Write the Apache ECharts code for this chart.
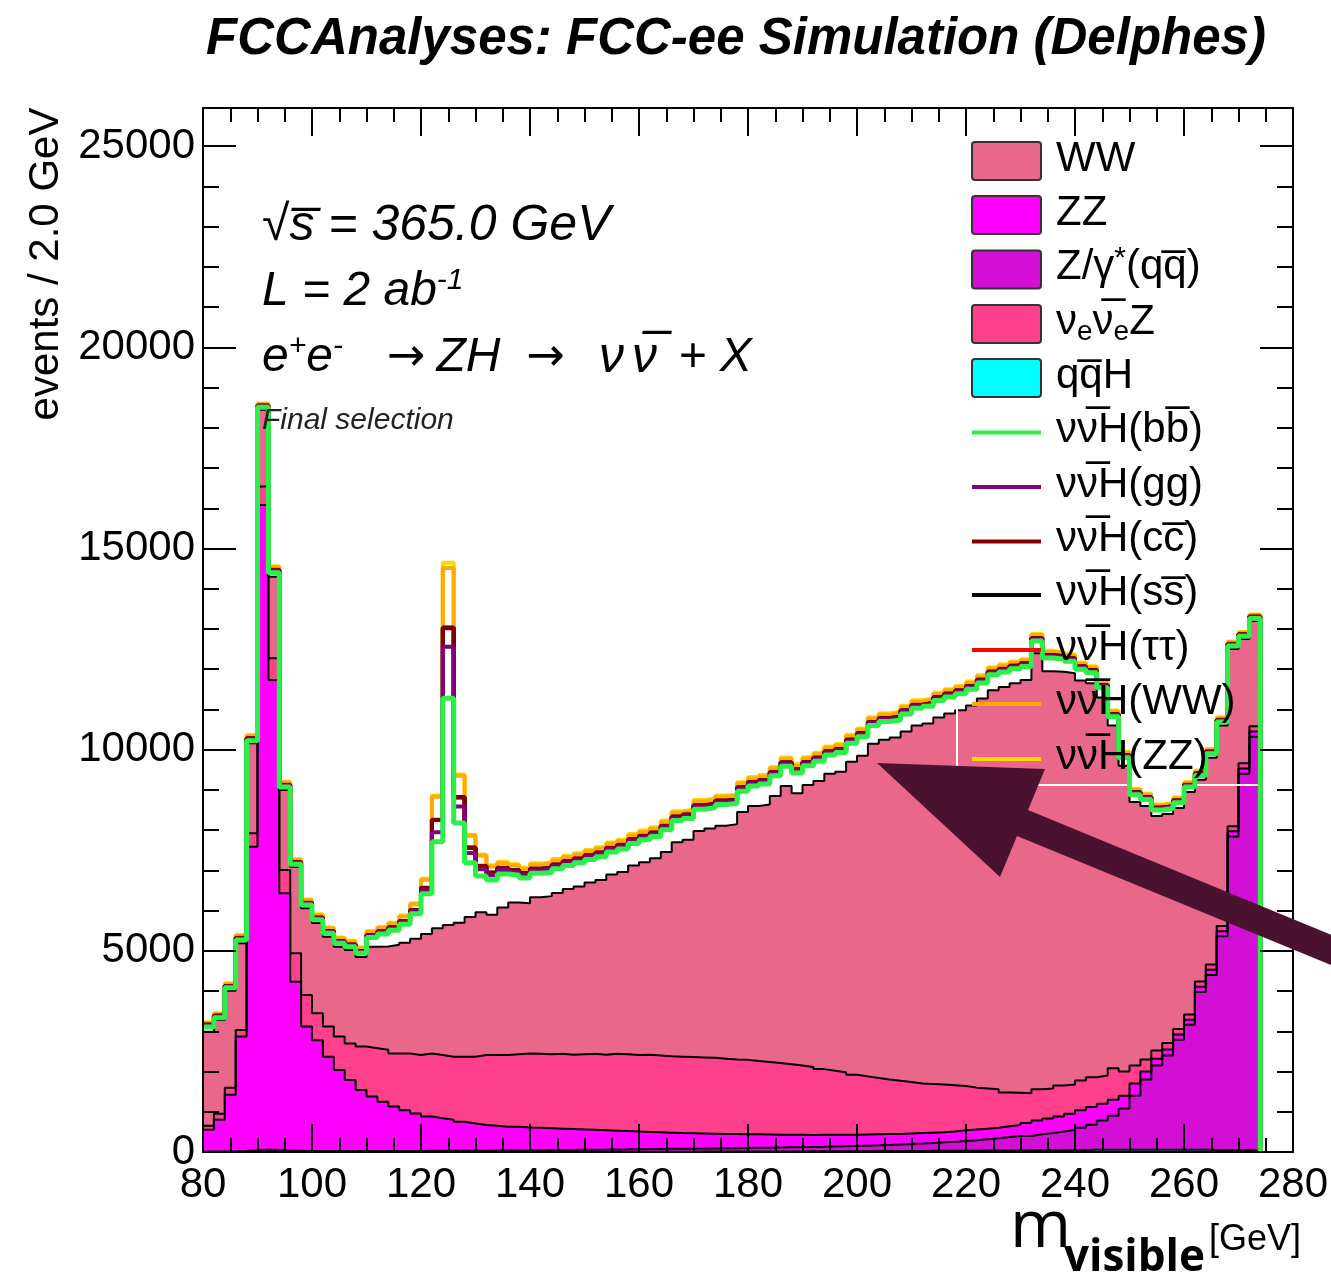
<!DOCTYPE html>
<html>
<head>
<meta charset="utf-8">
<script src="https://cdn.jsdelivr.net/npm/echarts/dist/echarts.min.js"></script>
<style>
  html, body { margin: 0; padding: 0; background: #fff; }
  #chart { width: 1331px; height: 1272px; }
</style>
</head>
<body>
<div id="chart"></div>
<script>
// Visible-mass histogram, 2 GeV bins; each entry is the left edge of a bin.
const massBins = [80,82,84,86,88,90,92,94,96,98,100,102,104,106,108,110,112,114,116,118,
  120,122,124,126,128,130,132,134,136,138,140,142,144,146,148,150,152,154,156,158,
  160,162,164,166,168,170,172,174,176,178,180,182,184,186,188,190,192,194,196,198,
  200,202,204,206,208,210,212,214,216,218,220,222,224,226,228,230,232,234,236,238,
  240,242,244,246,248,250,252,254,256,258,260,262,264,266,268,270,272];
const binWidth = 2;

// Backgrounds (events per bin), listed bottom-to-top of the stack
const qqH = [1,1,1,2,3,5,4,3,2,2,
  2,2,2,2,2,2,2,2,2,2,
  2,3,3,3,3,3,3,3,4,4,
  4,4,5,5,5,6,6,6,7,7,
  8,8,8,9,9,10,10,11,11,12,
  12,13,14,14,15,16,17,18,19,20,
  21,22,23,24,25,26,28,29,30,32,
  33,35,36,38,40,42,44,46,48,50,
  52,54,55,56,57,58,58,58,57,56,
  55,54,52,50,48,45,40];
const zGammaQQ = [14,14,19,23,37,55,46,32,28,23,
  23,23,23,23,23,23,23,23,23,23,
  26,27,27,27,29,31,33,35,36,38,
  41,44,45,47,50,52,54,57,59,63,
  64,67,70,71,74,76,80,82,85,88,
  92,95,98,102,105,109,113,118,123,130,
  137,144,153,162,173,184,196,211,226,243,
  262,283,307,332,360,358,396,424,462,500,
  548,626,725,844,1023,1342,1742,2092,2343,2734,
  3105,3926,4348,5310,7792,9355,10280];
const zz = [535,785,1400,2845,7550,16020,11680,6395,4200,3095,
  2755,2345,2015,1765,1515,1355,1225,1105,1015,935,
  852,810,770,720,678,636,614,592,590,568,
  555,542,530,518,505,492,480,467,454,440,
  428,415,402,390,382,374,365,357,349,340,
  336,327,318,314,310,300,300,294,288,280,
  277,274,269,264,262,260,256,250,254,265,
  265,262,257,270,270,320,340,360,370,400,
  440,440,420,400,320,300,200,170,150,130,
  130,130,130,130,130,130,130];
const nueNueZ = [100,150,180,160,330,460,540,580,710,780,
  670,750,830,910,1080,1200,1290,1320,1410,1450,
  1570,1570,1570,1620,1660,1740,1760,1780,1800,1840,
  1840,1840,1860,1850,1870,1890,1880,1910,1910,1900,
  1920,1910,1900,1900,1895,1890,1885,1870,1855,1850,
  1820,1805,1780,1750,1720,1685,1630,1590,1550,1490,
  1445,1400,1355,1320,1280,1230,1210,1190,1150,1100,
  1040,1000,960,840,800,740,780,750,770,730,
  740,740,700,780,600,450,300,200,160,140,
  130,130,130,130,130,130,130];
const ww = [2340,2330,2410,2160,2240,1910,2030,1990,2150,2160,
  2240,2230,2230,2320,2230,2520,2570,2700,2750,2890,
  2970,3150,3270,3330,3470,3550,3490,3670,3770,3730,
  3890,3930,4000,4120,4170,4260,4340,4460,4530,4710,
  4780,4900,5080,5330,5400,5630,5700,5790,5850,6160,
  6340,6400,6640,6920,6770,7010,7160,7380,7470,7780,
  7970,8310,8450,8530,8710,8900,8960,9120,9240,9340,
  9500,9690,9920,10080,10180,10270,10840,10370,10290,10220,
  9940,9790,9400,8520,7600,6550,6300,5830,5690,5490,
  5530,5010,5140,4980,4400,3090,2620];

// Signal nu nubar H, by Higgs decay channel (stacked on the backgrounds)
const hBB = [120,60,70,80,60,60,100,70,60,80,
  80,90,90,80,90,230,310,360,460,620,
  1000,2150,5640,2480,1350,900,860,830,680,630,
  600,590,600,580,590,570,580,560,570,550,
  560,540,550,540,530,540,520,530,510,520,
  500,510,500,490,500,480,490,470,480,460,
  470,450,450,440,440,430,430,420,410,410,
  400,390,380,370,360,340,300,330,310,300,
  280,260,240,220,200,180,160,150,140,130,
  120,110,100,90,80,70,60];
const hGG = [30,25,25,30,35,25,40,30,30,30,
  30,30,30,30,30,35,35,40,45,55,
  80,240,1280,410,240,170,120,100,80,70,
  65,65,60,60,60,60,60,58,58,58,
  56,56,56,55,55,55,54,54,54,53,
  53,53,52,52,52,51,51,50,50,50,
  50,49,49,48,48,48,47,47,46,46,
  45,45,44,44,43,42,42,41,40,40,
  38,37,36,35,34,33,32,31,30,30,
  29,28,28,27,26,25,25];
const hCC = [20,20,20,20,25,15,28,22,20,20,
  20,20,20,22,22,24,25,28,30,35,
  60,300,460,220,130,80,60,50,45,45,
  42,42,42,41,41,41,40,40,40,40,
  40,40,39,39,39,39,38,38,38,38,
  37,37,37,37,36,36,36,36,35,35,
  35,35,34,34,34,33,33,33,32,32,
  32,31,31,31,30,30,30,29,29,28,
  28,27,27,26,26,25,25,24,24,23,
  23,22,22,21,21,20,20];
const hSS = [1,1,1,1,1,1,1,1,1,1,
  1,1,1,1,1,1,1,1,1,2,
  2,5,10,5,3,2,1,1,1,1,
  1,1,1,1,1,1,1,1,1,1,
  1,1,1,1,1,1,1,1,1,1,
  1,1,1,1,1,1,1,1,1,1,
  1,1,1,1,1,1,1,1,1,1,
  1,1,1,1,1,1,1,1,1,1,
  1,1,1,1,1,1,1,1,1,1,
  1,1,1,1,1,1,1];
const hTauTau = [3,3,3,3,4,5,5,4,4,4,
  4,4,4,4,4,4,5,5,5,5,
  5,6,8,6,5,5,5,5,5,5,
  5,5,5,5,5,5,5,5,5,5,
  5,5,5,5,5,5,5,5,5,5,
  4,4,4,4,4,4,4,4,4,4,
  4,4,4,4,4,4,4,4,4,4,
  4,4,4,4,4,4,4,4,4,4,
  3,3,3,3,3,3,3,3,3,3,
  3,3,3,3,3,3,3];
const hWW = [40,40,45,50,55,35,60,55,55,60,
  60,65,65,70,70,75,80,90,110,140,
  200,570,1480,530,290,250,150,120,110,100,
  100,100,100,98,98,98,96,96,96,95,
  95,95,94,94,93,93,92,92,91,91,
  90,90,89,89,88,88,87,86,86,85,
  85,84,84,83,82,82,81,80,80,79,
  78,78,77,76,75,74,73,72,71,70,
  68,66,64,62,60,58,56,54,52,50,
  48,46,44,42,40,38,36];
const hZZ = [20,20,20,20,22,15,24,22,22,22,
  22,22,22,22,22,24,24,25,25,25,
  28,30,130,30,30,30,30,30,32,32,
  32,32,32,32,33,33,33,33,33,33,
  34,34,34,34,34,34,34,34,34,34,
  34,34,34,34,34,34,34,34,34,34,
  34,34,33,33,33,33,33,33,32,32,
  32,32,31,31,31,30,30,30,29,29,
  28,28,27,27,26,26,25,25,24,24,
  23,23,22,22,21,21,20];

const FONT = "'Liberation Sans', Arial, Helvetica, sans-serif";

const backgrounds = [
  { name: 'qqH',       values: qqH,      color: '#00ffff' },
  { name: 'Zgamma_qq', values: zGammaQQ, color: '#d30fd6' },
  { name: 'ZZ',        values: zz,       color: '#ff00ff' },
  { name: 'nuenueZ',   values: nueNueZ,  color: '#ff408c' },
  { name: 'WW',        values: ww,       color: '#e8678a' }
];
const signals = [
  { name: 'H_bb',     values: hBB,     color: '#2cf04a', width: 5 },
  { name: 'H_gg',     values: hGG,     color: '#800080', width: 4 },
  { name: 'H_cc',     values: hCC,     color: '#800000', width: 4 },
  { name: 'H_ss',     values: hSS,     color: '#000000', width: 4 },
  { name: 'H_tautau', values: hTauTau, color: '#ff0000', width: 4 },
  { name: 'H_WW',     values: hWW,     color: '#ffaa00', width: 4 },
  { name: 'H_ZZ',     values: hZZ,     color: '#ffd700', width: 4 }
];

// running sums of the stack, bin by bin
let running = massBins.map(() => 0);
function stackOn(values) {
  running = running.map((r, i) => r + values[i]);
  return running.slice();
}
backgrounds.forEach(b => { b.top = stackOn(b.values); });
signals.forEach(s => { s.top = stackOn(s.values); });

// step outline points: one per bin left edge, closing at the last bin's right edge
function histPoints(values) {
  const pts = massBins.map((x, i) => [x, values[i]]);
  pts.push([massBins[massBins.length - 1] + binWidth, 0]);
  return pts;
}

// like a stacked histogram: the highest cumulative layer is painted first,
// each lower layer is filled from zero on top of it
const series = [];
backgrounds.slice().reverse().forEach(b => {
  series.push({
    name: b.name, type: 'line', step: 'end', data: histPoints(b.top),
    symbol: 'none', silent: true, z: 1,
    lineStyle: { color: '#000', width: 2 },
    areaStyle: { color: b.color, opacity: 1 }
  });
});
signals.slice().reverse().forEach((s, k) => {
  series.push({
    name: s.name, type: 'line', step: 'end', data: histPoints(s.top),
    symbol: 'none', silent: true, z: 10 + k,
    lineStyle: { color: s.color, width: s.width }
  });
});

const frameLine = { show: true, onZero: false, lineStyle: { color: '#000', width: 2 } };
function xAxisDef(position, labels) {
  return {
    type: 'value', min: 80, max: 280, interval: 20, position: position, z: 40,
    axisLine: frameLine,
    axisTick: { show: true, inside: true, length: 28, lineStyle: { color: '#000', width: 2 } },
    minorTick: { show: true, splitNumber: 4, length: 14, lineStyle: { color: '#000', width: 2 } },
    axisLabel: { show: labels, margin: 12, color: '#000', fontSize: 42, fontFamily: FONT },
    splitLine: { show: false }, minorSplitLine: { show: false }
  };
}
function yAxisDef(position, major, labels) {
  return {
    type: 'value', min: 0, max: 25950, interval: major ? 5000 : 1000, position: position, z: 40,
    axisLine: major ? frameLine : { show: false },
    axisTick: { show: true, inside: true, length: major ? 33 : 16, lineStyle: { color: '#000', width: 2 } },
    axisLabel: {
      show: labels, margin: 8, color: '#000', fontSize: 42, fontFamily: FONT,
      formatter: v => (v % 5000 === 0 ? String(v) : '')
    },
    splitLine: { show: false }
  };
}

// legend entries
const legendRows = [
  { type: 'box',  color: '#e8678a', text: 'WW', y: 161 },
  { type: 'box',  color: '#ff00ff', text: 'ZZ', y: 215 },
  { type: 'box',  color: '#d30fd6', text: '{n|Z/γ}{sup|*}{n|(qq\u0305)}', y: 269.5 },
  { type: 'box',  color: '#ff408c', text: '{n|ν}{sub|e}{n|ν\u0305}{sub|e}{n|Z}', y: 324 },
  { type: 'box',  color: '#00ffff', text: 'qq\u0305H', y: 378 },
  { type: 'line', color: '#2cf04a', text: 'νν\u0305H(bb\u0305)', y: 432.5 },
  { type: 'line', color: '#800080', text: 'νν\u0305H(gg)', y: 487 },
  { type: 'line', color: '#800000', text: 'νν\u0305H(cc\u0305)', y: 541.5 },
  { type: 'line', color: '#000000', text: 'νν\u0305H(ss\u0305)', y: 595 },
  { type: 'line', color: '#ff0000', text: 'νν\u0305H(ττ)', y: 650 },
  { type: 'line', color: '#ffaa00', text: 'νν\u0305H(WW)', y: 704 },
  { type: 'line', color: '#ffd700', text: 'νν\u0305H(ZZ)', y: 759 }
];
const legendRich = {
  n:   { fontSize: 42, fontFamily: FONT, lineHeight: 48, verticalAlign: 'middle' },
  sup: { fontSize: 30, fontFamily: FONT, lineHeight: 36, verticalAlign: 'top' },
  sub: { fontSize: 28, fontFamily: FONT, lineHeight: 30, verticalAlign: 'bottom' }
};
const legendEls = [];
legendRows.forEach(r => {
  if (r.type === 'box') {
    legendEls.push({ type: 'rect', z: 20, silent: true,
      shape: { x: 972, y: r.y - 19, width: 69, height: 38, r: 3 },
      style: { fill: r.color, stroke: '#333', lineWidth: 2 } });
  } else {
    legendEls.push({ type: 'line', z: 20, silent: true,
      shape: { x1: 972, y1: r.y, x2: 1041, y2: r.y },
      style: { stroke: r.color, lineWidth: 4 } });
  }
  legendEls.push({ type: 'text', z: 20, silent: true, x: 1056, y: r.y - 2,
    style: { text: r.text, rich: legendRich, fontSize: 42, fontFamily: FONT, fill: '#000',
      align: 'left', verticalAlign: 'middle' } });
});

const italicRich = {
  a:   { fontSize: 48, fontStyle: 'italic', fontFamily: FONT, lineHeight: 52 },
  b:   { fontSize: 30, fontStyle: 'italic', fontFamily: FONT, lineHeight: 32, verticalAlign: 'top' },
  ar1: { fontSize: 46, fontFamily: "'DejaVu Sans', sans-serif", lineHeight: 52, padding: [0, 11, 0, 44] },
  ar2: { fontSize: 46, fontFamily: "'DejaVu Sans', sans-serif", lineHeight: 52, padding: [0, 34, 0, 26] },
  nu:  { fontSize: 50, fontStyle: 'italic', fontFamily: FONT, lineHeight: 52, padding: [0, 8, 0, 0] }
};
const textEls = [
  { type: 'text', z: 20, x: 736, y: 40, style: {
      text: 'FCCAnalyses: FCC-ee Simulation (Delphes)', fontSize: 51, fontWeight: 'bold',
      fontStyle: 'italic', fontFamily: FONT, fill: '#000', align: 'center', verticalAlign: 'middle' } },
  { type: 'text', z: 20, x: 262, y: 226, style: {
      text: '√s\u0305 = 365.0 GeV', fontSize: 50, fontStyle: 'italic', fontFamily: FONT,
      fill: '#000', align: 'left', verticalAlign: 'middle' } },
  { type: 'text', z: 20, x: 262, y: 292, style: {
      text: '{a|L = 2 ab}{b|-1}', fontFamily: FONT, fill: '#000', align: 'left', verticalAlign: 'middle',
      rich: italicRich } },
  { type: 'text', z: 20, x: 262, y: 358, style: {
      text: '{a|e}{b|+}{a|e}{b|-}{ar1|→}{a|ZH}{ar2|→}{nu|ν}{nu|ν\u0305}{a| + X}', fontFamily: FONT, fill: '#000',
      align: 'left', verticalAlign: 'middle', rich: italicRich } },
  { type: 'text', z: 20, x: 262, y: 421, style: {
      text: 'Final selection', fontSize: 30, fontStyle: 'italic', fontFamily: FONT,
      fill: '#222', align: 'left', verticalAlign: 'middle' } },
  { type: 'text', z: 20, x: 46, y: 264, rotation: Math.PI / 2, style: {
      text: 'events / 2.0 GeV', fontSize: 42, fontFamily: FONT, fill: '#000',
      align: 'center', verticalAlign: 'middle' } },
  { type: 'text', z: 20, x: 1010, y: 1228, style: {
      text: 'm', fontSize: 66, fontFamily: "'Open Sans', sans-serif", fill: '#000',
      align: 'left', verticalAlign: 'middle' } },
  { type: 'text', z: 20, x: 1064, y: 1258, style: {
      text: 'visible', fontSize: 44, fontWeight: 'bold', fontFamily: "'Open Sans', sans-serif", fill: '#000',
      align: 'left', verticalAlign: 'middle' } },
  { type: 'text', z: 20, x: 1209, y: 1240, style: {
      text: '[GeV]', fontSize: 36, fontFamily: FONT, fill: '#000',
      align: 'left', verticalAlign: 'middle' } }
];

// pointer arrow drawn over the plot
const arrowEl = { type: 'polygon', z: 60, silent: true,
  shape: { points: [[877, 763], [1045, 769], [1028, 810], [1397, 962], [1387, 988], [1017, 836], [1000, 877]] },
  style: { fill: '#4b1230' } };

// thin white box edge crossing the filled area
const boxEdge = { type: 'polyline', z: 2, silent: true,
  shape: { points: [[957, 130], [957, 785], [1293, 785]] },
  style: { stroke: '#ffffff', lineWidth: 2, fill: null } };

const chart = echarts.init(document.getElementById('chart'), null, { renderer: 'canvas' });
chart.setOption({
  animation: false,
  backgroundColor: '#ffffff',
  grid: { left: 203, right: 38, top: 108, bottom: 120, containLabel: false, outerBoundsMode: 'none' },
  xAxis: [xAxisDef('bottom', true), xAxisDef('top', false)],
  yAxis: [yAxisDef('left', true, true), yAxisDef('left', false, false),
          yAxisDef('right', true, false), yAxisDef('right', false, false)],
  series: series,
  graphic: { elements: [boxEdge].concat(legendEls, textEls, [arrowEl]) }
});
</script>
</body>
</html>
